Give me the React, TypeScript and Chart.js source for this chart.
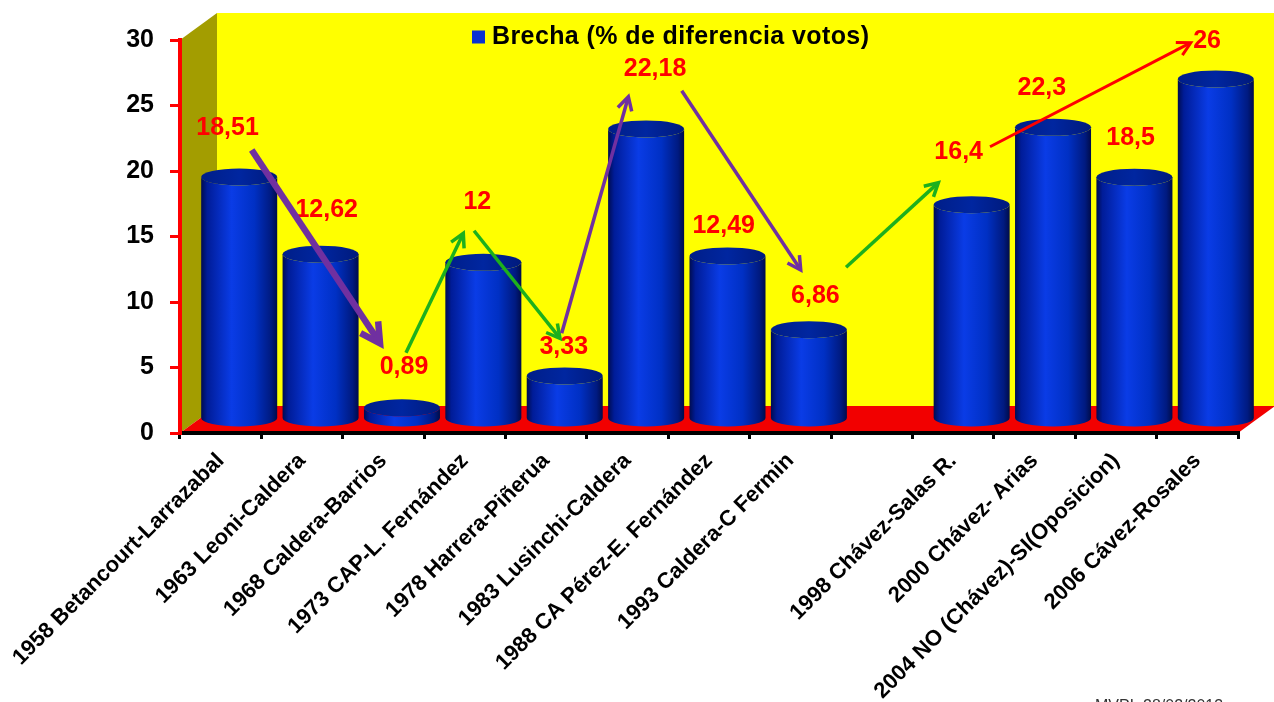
import React, { useEffect, useRef } from 'react';
import { Chart, registerables } from 'chart.js';

Chart.register(...registerables);

const FONT = "'Liberation Sans', Arial, Helvetica, sans-serif";

const categories = [
  '1958 Betancourt-Larrazabal',
  '1963 Leoni-Caldera',
  '1968 Caldera-Barrios',
  '1973 CAP-L. Fernández',
  '1978 Harrera-Piñerua',
  '1983 Lusinchi-Caldera',
  '1988 CA Pérez-E. Fernández',
  '1993 Caldera-C Fermin',
  '',
  '1998 Chávez-Salas R.',
  '2000 Chávez- Arias',
  '2004 NO (Chávez)-SI(Oposicion)',
  '2006 Cávez-Rosales',
];

const seriesLabel = 'Brecha (% de diferencia votos)';
const brecha: (number | null)[] = [18.51, 12.62, 0.89, 12, 3.33, 22.18, 12.49, 6.86, null, 16.4, 22.3, 18.5, 26];

// value-label anchors (category units, value units)
const labelCat: (number | null)[] = [0.084, 1.303, 2.252, 3.153, 4.215, 5.337, 6.181, 7.307, null, 9.068, 10.09, 11.18, 12.12];
const labelVal: (number | null)[] = [23.3, 17.02, 5.06, 17.61, 6.54, 27.76, 15.83, 10.48, null, 21.47, 26.31, 22.5, 29.95];

// trend arrows (category units, value units)
const arrowFrom = [[0.381, 21.6], [2.277, 6.13], [3.113, 15.44], [4.19, 7.61], [5.665, 26.13], [7.684, 12.65], [9.453, 21.85]];
const arrowTo = [[1.958, 6.85], [2.981, 15.24], [4.169, 7.23], [5.009, 25.67], [7.127, 12.44], [8.818, 19.11], [11.92, 29.79]];
const arrowColor = ['#7030A0', '#1DB01D', '#1DB01D', '#7030A0', '#7030A0', '#1DB01D', '#FF0000'];
const arrowWidth = [6.5, 3.5, 3.5, 3.5, 3.5, 3.5, 3];

const watermark = 'MVPL 28/02/2013';

const DX = 37;
const DY = -27;

function fmt(v: number) {
  return String(v).replace('.', ',');
}

const threeD = {
  id: 'threeD',
  beforeDraw(chart: any) {
    const { ctx, chartArea } = chart;
    const { left, right, top, bottom } = chartArea;
    ctx.save();
    ctx.fillStyle = '#FFFF00';
    ctx.fillRect(left + DX, top + DY, right - left, bottom - top);
    ctx.fillStyle = '#A39D00';
    ctx.beginPath();
    ctx.moveTo(left, top);
    ctx.lineTo(left + DX, top + DY);
    ctx.lineTo(left + DX, bottom + DY);
    ctx.lineTo(left, bottom);
    ctx.closePath();
    ctx.fill();
    ctx.fillStyle = '#F20000';
    ctx.beginPath();
    ctx.moveTo(left, bottom);
    ctx.lineTo(left + DX, bottom + DY);
    ctx.lineTo(right + DX, bottom + DY);
    ctx.lineTo(right, bottom);
    ctx.closePath();
    ctx.fill();
    ctx.restore();
  },
  afterDatasetsDraw(chart: any) {
    const { ctx } = chart;
    const meta = chart.getDatasetMeta(0);
    ctx.save();
    meta.data.forEach((bar: any, i: number) => {
      if (brecha[i] == null) return;
      const { x, y, base, width } = bar.getProps(['x', 'y', 'base', 'width'], true);
      const cx = x + DX / 2;
      const yTop = y + DY / 2;
      const yBot = base + DY / 2;
      const rx = width / 2;
      const ry = 8.5;
      const l = cx - rx;
      const r = cx + rx;
      const g = ctx.createLinearGradient(l, 0, r, 0);
      g.addColorStop(0, '#000C50');
      g.addColorStop(0.08, '#001C98');
      g.addColorStop(0.4, '#0A3CE6');
      g.addColorStop(0.7, '#0030C4');
      g.addColorStop(0.92, '#001A80');
      g.addColorStop(1, '#000C4A');
      ctx.beginPath();
      ctx.moveTo(l, yTop);
      ctx.lineTo(l, yBot);
      ctx.ellipse(cx, yBot, rx, ry, 0, Math.PI, 0, true);
      ctx.lineTo(r, yTop);
      ctx.ellipse(cx, yTop, rx, ry, 0, 0, Math.PI, false);
      ctx.closePath();
      ctx.fillStyle = g;
      ctx.fill();
      const gt = ctx.createLinearGradient(l, 0, r, 0);
      gt.addColorStop(0, '#001E88');
      gt.addColorStop(0.5, '#0026A0');
      gt.addColorStop(1, '#001A7C');
      ctx.beginPath();
      ctx.ellipse(cx, yTop, rx, ry, 0, 0, Math.PI * 2);
      ctx.fillStyle = gt;
      ctx.fill();
    });
    ctx.restore();
  },
  afterDraw(chart: any) {
    const { ctx, chartArea, scales } = chart;
    const xs = scales.x;
    const ys = scales.y;
    ctx.save();
    // value labels
    ctx.font = `bold 25px ${FONT}`;
    ctx.fillStyle = '#FF0000';
    ctx.textAlign = 'center';
    ctx.textBaseline = 'middle';
    brecha.forEach((v, i) => {
      if (v == null || labelCat[i] == null || labelVal[i] == null) return;
      ctx.fillText(fmt(v), xs.getPixelForValue(labelCat[i]), ys.getPixelForValue(labelVal[i]));
    });
    // arrows
    arrowFrom.forEach((f, i) => {
      const t = arrowTo[i];
      const x1 = xs.getPixelForValue(f[0]);
      const y1 = ys.getPixelForValue(f[1]);
      const x2 = xs.getPixelForValue(t[0]);
      const y2 = ys.getPixelForValue(t[1]);
      const ang = Math.atan2(y2 - y1, x2 - x1);
      const w = arrowWidth[i];
      const head = w > 5 ? 22 : 15;
      ctx.strokeStyle = arrowColor[i];
      ctx.lineWidth = w;
      ctx.lineCap = 'butt';
      ctx.lineJoin = 'miter';
      ctx.beginPath();
      ctx.moveTo(x1, y1);
      ctx.lineTo(x2 - Math.cos(ang) * w * 0.5, y2 - Math.sin(ang) * w * 0.5);
      ctx.stroke();
      ctx.beginPath();
      ctx.moveTo(x2 - head * Math.cos(ang - 0.5), y2 - head * Math.sin(ang - 0.5));
      ctx.lineTo(x2, y2);
      ctx.lineTo(x2 - head * Math.cos(ang + 0.5), y2 - head * Math.sin(ang + 0.5));
      ctx.stroke();
    });
    // legend
    const lx = chartArea.left + 292;
    const ly = chartArea.top - 3;
    ctx.fillStyle = '#0A32D2';
    ctx.fillRect(lx, ly - 6.5, 13, 13);
    ctx.fillStyle = '#000000';
    ctx.font = `bold 25px ${FONT}`;
    ctx.textAlign = 'left';
    ctx.textBaseline = 'middle';
    try { (ctx as any).letterSpacing = '0.4px'; } catch (e) {}
    ctx.fillText(chart.data.datasets[0].label, lx + 20, ly);
    try { (ctx as any).letterSpacing = '0px'; } catch (e) {}
    // watermark (cut at the bottom edge)
    ctx.font = `16px ${FONT}`;
    ctx.fillStyle = '#333333';
    ctx.textBaseline = 'top';
    ctx.fillText(watermark, 1095, 699);
    ctx.restore();
  },
};

export default function App() {
  const ref = useRef<HTMLCanvasElement>(null);
  useEffect(() => {
    if (!ref.current) return;
    const chart = new Chart(ref.current, {
      type: 'bar',
      data: {
        labels: categories,
        datasets: [
          {
            label: seriesLabel,
            data: brecha,
            backgroundColor: 'rgba(0,0,0,0)',
            borderWidth: 0,
            barPercentage: 0.934,
            categoryPercentage: 1,
          },
        ],
      },
      plugins: [threeD],
      options: {
        responsive: false,
        animation: false,
        devicePixelRatio: 1,
        layout: { padding: { top: 40, right: 36, left: 0, bottom: 0 } },
        plugins: {
          legend: { display: false },
          tooltip: { enabled: false },
          title: { display: false },
        },
        scales: {
          x: {
            grid: {
              drawOnChartArea: false,
              drawTicks: true,
              tickLength: 6,
              color: '#000000',
              lineWidth: 3,
            },
            border: { display: true, color: '#000000', width: 4 },
            ticks: {
              autoSkip: false,
              maxRotation: 45,
              minRotation: 45,
              color: '#000000',
              padding: 9,
              font: { family: FONT, size: 22, weight: 'bold' },
            },
            afterFit(scale: any) {
              scale.height = 269;
              scale.paddingLeft = 0;
              scale.paddingRight = 0;
            },
          },
          y: {
            min: 0,
            max: 30,
            ticks: {
              stepSize: 5,
              color: '#000000',
              padding: 16,
              font: { family: FONT, size: 25, weight: 'bold' },
            },
            grid: {
              drawOnChartArea: false,
              drawTicks: true,
              tickLength: 10,
              color: '#FF0000',
              lineWidth: 3,
            },
            border: { display: true, color: '#FF0000', width: 4 },
            afterFit(scale: any) {
              scale.width = 180;
              scale.paddingTop = 0;
              scale.paddingBottom = 0;
            },
          },
        },
      },
    } as any);
    return () => chart.destroy();
  }, []);
  return (
    <div style={{ position: 'absolute', left: 0, top: 0, width: 1274, height: 702, background: '#ffffff' }}>
      <canvas ref={ref} width={1274} height={702} style={{ display: 'block', width: 1274, height: 702 }} />
    </div>
  );
}
